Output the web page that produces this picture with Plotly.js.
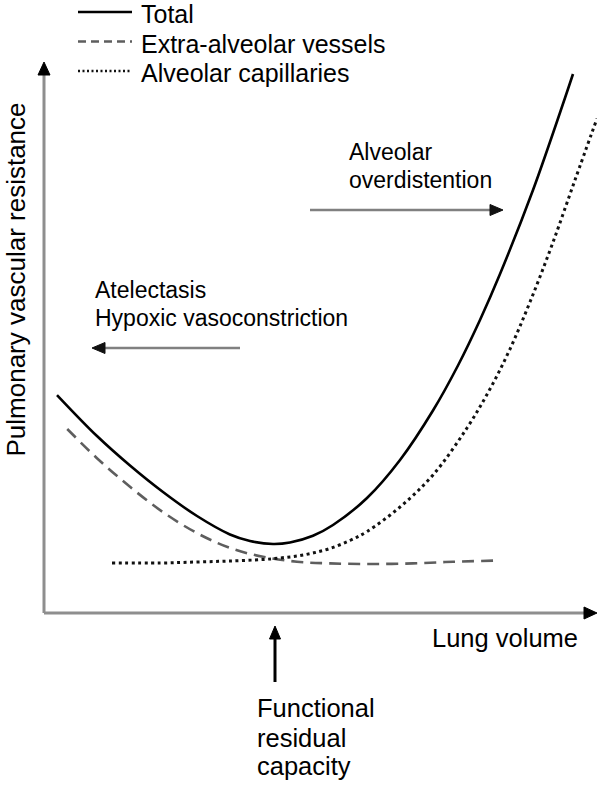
<!DOCTYPE html>
<html>
<head>
<meta charset="utf-8">
<script src="https://cdn.plot.ly/plotly-3.0.1.min.js"></script>
<style>
  html, body { margin: 0; padding: 0; background: #ffffff; }
  #chart { width: 600px; height: 787px; }
</style>
</head>
<body>
<div id="chart"></div>
<script>
// ---- Data (schematic, arbitrary units 0-100) ----
const seriesNames = ['Total', 'Extra-alveolar vessels', 'Alveolar capillaries'];

const totalVolume = [2.35, 9.58, 15.55, 21.52, 27.67, 33.63, 37.25, 41.41, 44.48, 48.64, 52.26, 58.41, 64.38, 70.34, 74.86, 78.84, 82.46, 88.43, 94.21, 95.66];
const totalResistance = [39.56, 32.12, 26.77, 21.96, 17.60, 14.25, 13.07, 12.52, 12.79, 14.01, 15.97, 20.87, 27.77, 36.75, 44.92, 53.18, 61.52, 76.77, 93.47, 97.82];

const extraVolume = [4.2, 9.58, 15.55, 21.52, 27.67, 33.63, 39.6, 45.75, 51.72, 59.0, 66.7, 74.0, 81.2];
const extraResistance = [33.4, 28.1, 22.9, 18.3, 14.5, 11.8, 10.2, 9.3, 9.0, 8.9, 9.0, 9.3, 9.5];

const alveolarVolume = [12.30, 20.98, 27.67, 33.63, 39.60, 42.68, 45.75, 48.64, 51.72, 55.33, 58.41, 64.38, 70.34, 76.49, 80.65, 84.27, 87.88, 91.86, 96.02, 100.0];
const alveolarResistance = [9.07, 9.07, 9.26, 9.44, 9.71, 9.98, 10.34, 10.89, 11.71, 13.16, 14.79, 19.24, 25.05, 33.58, 40.65, 47.91, 56.44, 66.79, 78.58, 89.75];

const axisTitleX = 'Lung volume';
const axisTitleY = 'Pulmonary vascular resistance';
const leftNote = ['Atelectasis', 'Hypoxic vasoconstriction'];
const rightNote = ['Alveolar', 'overdistention'];
const frcNote = ['Functional', 'residual', 'capacity'];

// ---- Styles ----
const FONT = 'Arial, "Liberation Sans", Helvetica, sans-serif';
const lineStyles = [
  {color: '#000000', width: 2.6, dash: 'solid'},
  {color: '#5e5e5e', width: 2.6, dash: '12px,7px'},
  {color: '#111111', width: 3, dash: '3px,3.5px'}
];
const legendDash = ['solid', '8px,5px', '2px,2.5px'];

// plot-area pixel frame -> paper coords helpers (layout decorations only)
const L = 44, R = 597, T = 62, B = 613;
const px = x => (x - L) / (R - L);
const py = y => (B - y) / (B - T);

const traces = [
  {x: totalVolume, y: totalResistance, name: seriesNames[0]},
  {x: extraVolume, y: extraResistance, name: seriesNames[1]},
  {x: alveolarVolume, y: alveolarResistance, name: seriesNames[2]}
].map((t, i) => Object.assign(t, {
  type: 'scatter', mode: 'lines', cliponaxis: false, hoverinfo: 'skip',
  line: Object.assign({shape: 'spline', smoothing: 1}, lineStyles[i])
}));

const shapes = [];
const annotations = [];

function arrow(x0, y0, x1, y1, shaftColor, headColor, w, headLen, headHalf) {
  const dx = x1 - x0, dy = y1 - y0;
  const len = Math.sqrt(dx * dx + dy * dy);
  const ux = dx / len, uy = dy / len;
  const bx = x1 - ux * headLen, by = y1 - uy * headLen;
  shapes.push({type: 'line', xref: 'paper', yref: 'paper',
    x0: px(x0), y0: py(y0), x1: px(bx + ux * 2), y1: py(by + uy * 2),
    line: {color: shaftColor, width: w}});
  const nx = -uy, ny = ux;
  const p1 = [x1, y1], p2 = [bx + nx * headHalf, by + ny * headHalf], p3 = [bx - nx * headHalf, by - ny * headHalf];
  shapes.push({type: 'path', xref: 'paper', yref: 'paper',
    path: `M${px(p1[0])},${py(p1[1])} L${px(p2[0])},${py(p2[1])} L${px(p3[0])},${py(p3[1])} Z`,
    fillcolor: headColor, line: {color: headColor, width: 1}});
}

function text(str, x, y, size, anchor) {
  annotations.push({text: str, xref: 'paper', yref: 'paper', x: px(x), y: py(y),
    xanchor: anchor || 'left', yanchor: 'middle', showarrow: false,
    font: {family: FONT, size: size, color: '#000000'}});
}

// axes with arrowheads
arrow(L, B, 597, B, '#8e8e8e', '#000000', 3, 13, 6);
arrow(L, B, L, 62, '#8e8e8e', '#000000', 3, 13, 6);

// annotation arrows
arrow(240, 348, 92, 348, '#808080', '#111111', 2.6, 13, 5.5);
arrow(310, 210, 503, 210, '#808080', '#111111', 2.6, 13, 5.5);
arrow(275, 682, 275, 626, '#000000', '#000000', 3, 13, 5.5);

// legend (custom, to match the long line samples)
const legendLineY = [12, 41.5, 71];
const legendTextY = [14, 43.5, 72.5];
seriesNames.forEach((name, i) => {
  shapes.push({type: 'line', xref: 'paper', yref: 'paper',
    x0: px(78), x1: px(132), y0: py(legendLineY[i]), y1: py(legendLineY[i]),
    line: {color: lineStyles[i].color, width: i === 0 ? 2.6 : 2.4, dash: legendDash[i]}});
  text(name, 139, legendTextY[i], 25);
});

// notes
text(rightNote[0], 347, 152, 23);
text(rightNote[1], 347, 180, 23);
text(leftNote[0], 93, 290, 23);
text(leftNote[1], 93, 318, 23);
text(frcNote[0], 255, 708, 25.5);
text(frcNote[1], 255, 738, 25.5);
text(frcNote[2], 255, 766, 25.5);
text(axisTitleX, 430, 638, 25.5);

annotations.push({text: axisTitleY, xref: 'paper', yref: 'paper', x: px(15.5), y: py(280),
  xanchor: 'center', yanchor: 'middle', textangle: -90, showarrow: false,
  font: {family: FONT, size: 26, color: '#000000'}});

const layout = {
  width: 600, height: 787,
  margin: {l: L, r: 600 - R, t: T, b: 787 - B, pad: 0},
  paper_bgcolor: '#ffffff', plot_bgcolor: '#ffffff',
  showlegend: false,
  xaxis: {range: [0, 100], visible: false, fixedrange: true},
  yaxis: {range: [0, 100], visible: false, fixedrange: true},
  shapes: shapes,
  annotations: annotations
};

Plotly.newPlot('chart', traces, layout, {staticPlot: true, displayModeBar: false});
</script>
</body>
</html>
